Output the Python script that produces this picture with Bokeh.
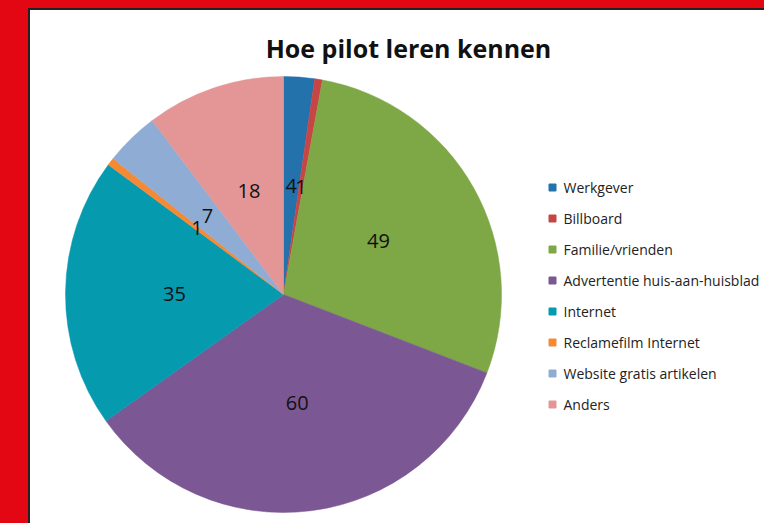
import math
from bokeh.plotting import figure
from bokeh.models import Range1d, ColumnDataSource, GlobalInlineStyleSheet
from bokeh.core.properties import value
from bokeh.embed import file_html
from bokeh.resources import INLINE

# ---- data ----
categories = ["Werkgever", "Billboard", "Familie/vrienden",
              "Advertentie huis-aan-huisblad", "Internet",
              "Reclamefilm Internet", "Website gratis artikelen", "Anders"]
counts = [4, 1, 49, 60, 35, 1, 7, 18]
colors = ["#2372AC", "#C84545", "#7EA746", "#7B5794",
          "#069AAF", "#F58A36", "#8FADD4", "#E49697"]
title_text = "Hoe pilot leren kennen"

# ---- layout constants (pixels) ----
W, H = 764, 523
BL, BT = 30, 10
FW, FH = W - BL, H - BT
CX, CY, R = 253, 229, 218
LABEL_R = 109
FONT = "Open Sans"

total = sum(counts)
starts, ends, lx, ly = [], [], [], []
cum = 0
for v in counts:
    a0 = math.pi / 2 - 2 * math.pi * cum / total
    a1 = math.pi / 2 - 2 * math.pi * (cum + v) / total
    am = math.pi / 2 - 2 * math.pi * (cum + v / 2) / total
    starts.append(a0)
    ends.append(a1)
    lx.append(CX + LABEL_R * math.cos(am))
    ly.append(CY + LABEL_R * math.sin(am))
    cum += v

src = ColumnDataSource(dict(cat=categories, val=counts, col=colors,
                            start=starts, end=ends, lx=lx, ly=ly,
                            lab=[str(v) for v in counts]))

css = GlobalInlineStyleSheet(css="""
body {
  background:
    linear-gradient(#E30613,#E30613) 0 0 / 100% 8px no-repeat,
    linear-gradient(#E30613,#E30613) 0 0 / 28px 100% no-repeat,
    linear-gradient(#222222,#222222) 28px 8px / 100% 2px no-repeat,
    linear-gradient(#222222,#222222) 28px 8px / 2px 100% no-repeat,
    #ffffff;
}
""")

p = figure(width=W, height=H, output_backend="svg", toolbar_location=None,
           x_range=Range1d(0, FW), y_range=Range1d(0, FH),
           x_axis_location=None, y_axis_location=None,
           min_border_left=BL, min_border_top=BT,
           min_border_right=0, min_border_bottom=0,
           border_fill_color=None, background_fill_color="white",
           outline_line_color=None, stylesheets=[css])
p.grid.visible = False

p.wedge(x=CX, y=CY, radius=R, start_angle="start", end_angle="end",
        direction="clock", fill_color="col", line_color="col",
        line_width=0.5, source=src)

p.text(x="lx", y="ly", text="lab", source=src, text_align="center",
       text_baseline="middle", text_font=value(FONT),
       text_font_size="20px", text_color="#111111")

# title
p.text(x=[378], y=[476], text=[title_text], text_align="center",
       text_baseline="alphabetic", text_font=value(FONT),
       text_font_size="25px", text_font_style="bold", text_color="#111111")

# legend
LEG_X, LEG_Y0, LEG_DY = 522, 523 - 187, 31
leg = ColumnDataSource(dict(
    x=[LEG_X] * len(categories),
    tx=[LEG_X + 11] * len(categories),
    y=[LEG_Y0 - i * LEG_DY for i in range(len(categories))],
    cat=categories, col=colors))
p.scatter(x="x", y="y", marker="square", size=7, fill_color="col",
          line_color="col", source=leg)
p.text(x="tx", y="y", text="cat", source=leg, text_align="left",
       text_baseline="middle", text_font=value(FONT),
       text_font_size="14px", text_color="#222222")

open("out.html", "w").write(file_html(p, INLINE))
